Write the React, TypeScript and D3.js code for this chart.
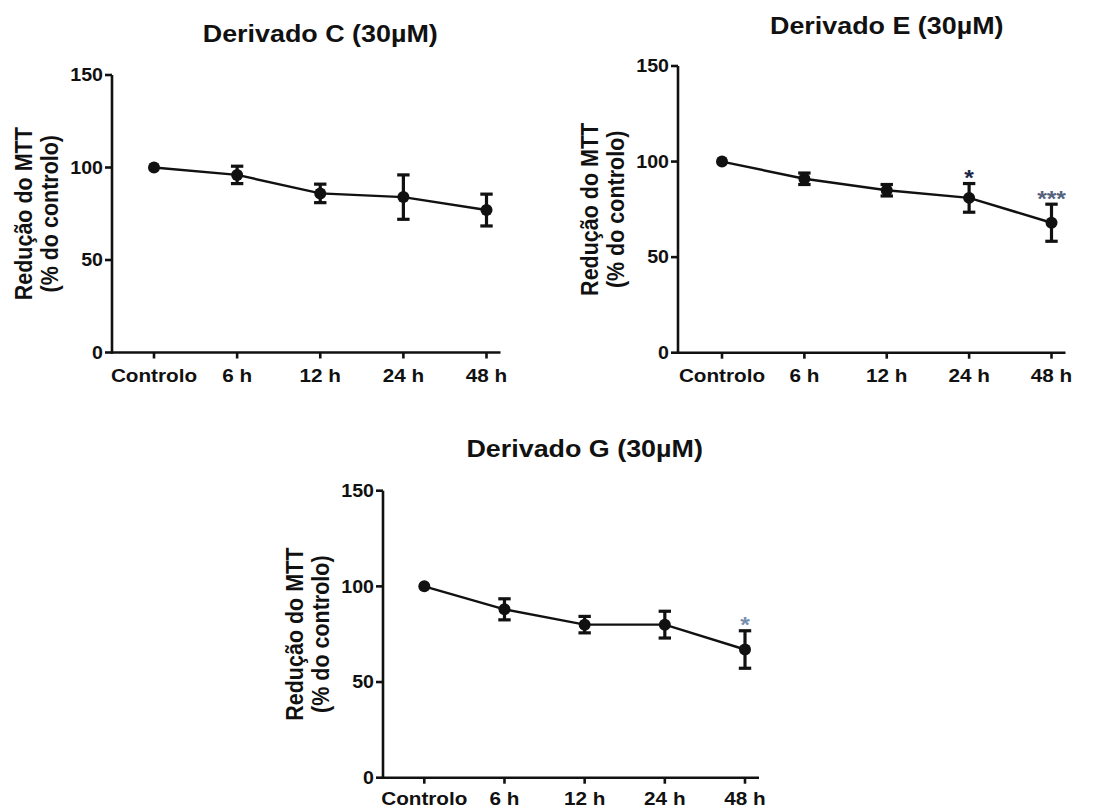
import * as d3 from "d3";

const categories = ["Controlo", "6 h", "12 h", "24 h", "48 h"];
const yTicks = [0, 50, 100, 150];

const meanC = [100, 96, 86, 84, 77];
const semC = [0, 4.7, 5, 12, 8.6];
const sigC = ["", "", "", "", ""];

const meanE = [100, 91, 85, 81, 68];
const semE = [0, 3, 3, 7.5, 9.7];
const sigE = ["", "", "", "*", "***"];

const meanG = [100, 88, 80, 80, 67];
const semG = [0, 5.5, 4.3, 7, 9.8];
const sigG = ["", "", "", "", "*"];

const FONT = "'Liberation Sans', Arial, Helvetica, sans-serif";
const SX = 1.12; // source image is slightly stretched horizontally
const INK = "#111";

// panel layout: axis origin x, first/last category x, top/bottom of y axis
const panels = [
  { title: "Derivado C (30\u00b5M)", mean: meanC, sem: semC, sig: sigC, axisX: 112, x0: 154, x1: 486.5, yTop: 75, yBot: 352.5, titleY: 41.5, labelDy: 29.5, sigColor: ["#1c2340", "#1c2340"] },
  { title: "Derivado E (30\u00b5M)", mean: meanE, sem: semE, sig: sigE, axisX: 678, x0: 722, x1: 1051.5, yTop: 66, yBot: 352.7, titleY: 33.5, labelDy: 29.5, sigColor: ["#1c2848", "#56647e"] },
  { title: "Derivado G (30\u00b5M)", mean: meanG, sem: semG, sig: sigG, axisX: 383, x0: 424.3, x1: 745, yTop: 490.7, yBot: 777.7, titleY: 456.5, labelDy: 27.5, sigColor: ["#7890b0", "#7890b0"] },
];

const SText = ({ x, y, size, anchor = "middle", weight = "bold", rotate = false, fill = INK, children }: any) => (
  <text
    transform={`translate(${x},${y}) scale(${SX},1)${rotate ? " rotate(-90)" : ""}`}
    fontFamily={FONT}
    fontSize={size}
    fontWeight={weight}
    textAnchor={anchor}
    fill={fill}
  >
    {children}
  </text>
);

const Panel = ({ p }: any) => {
  const x = d3.scalePoint<string>().domain(categories).range([p.x0, p.x1]);
  const y = d3.scaleLinear().domain([0, 150]).range([p.yBot, p.yTop]);
  const pts = categories.map((c, i) => ({ c, m: p.mean[i], s: p.sem[i], sig: p.sig[i] }));
  const line = d3
    .line<any>()
    .x((d) => x(d.c) as number)
    .y((d) => y(d.m));
  const right = p.x1 + 14;
  const midY = (p.yTop + p.yBot) / 2;
  const titleX = (p.x0 + p.x1) / 2;

  return (
    <g>
      <SText x={titleX} y={p.titleY} size={24}>
        {p.title}
      </SText>

      {/* y axis label */}
      <SText x={p.axisX - 80} y={midY} size={21.5} rotate>
        Redução do MTT
      </SText>
      <SText x={p.axisX - 54} y={midY} size={21.5} rotate>
        (% do controlo)
      </SText>

      {/* axes */}
      <g stroke={INK} strokeWidth={2.6} fill="none">
        <line x1={p.axisX} x2={p.axisX} y1={y(0) + 1.3} y2={y(150)} />
        <line x1={p.axisX} x2={right} y1={y(0)} y2={y(0)} />
        {yTicks.map((t) => (
          <line key={t} x1={p.axisX - 7} x2={p.axisX} y1={y(t)} y2={y(t)} />
        ))}
        {categories.map((c) => (
          <line key={c} x1={x(c)} x2={x(c)} y1={y(0)} y2={y(0) + 6} />
        ))}
      </g>
      {yTicks.map((t) => (
        <SText key={t} x={p.axisX - 9} y={y(t) + 6.2} size={17.5} anchor="end">
          {t}
        </SText>
      ))}
      {categories.map((c) => (
        <SText key={c} x={x(c)} y={y(0) + p.labelDy} size={18.5}>
          {c}
        </SText>
      ))}

      {/* data */}
      <path d={line(pts) as string} fill="none" stroke={INK} strokeWidth={2.4} />
      {pts
        .filter((d) => d.s > 0)
        .map((d) => {
          const cx = x(d.c) as number;
          return (
            <g key={d.c} stroke={INK} strokeWidth={3.2} fill="none">
              <line x1={cx} x2={cx} y1={y(d.m + d.s)} y2={y(d.m - d.s)} />
              <line x1={cx - 6.2} x2={cx + 6.2} y1={y(d.m + d.s)} y2={y(d.m + d.s)} />
              <line x1={cx - 6.2} x2={cx + 6.2} y1={y(d.m - d.s)} y2={y(d.m - d.s)} />
            </g>
          );
        })}
      {pts.map((d) => (
        <circle key={d.c} cx={x(d.c)} cy={y(d.m)} r={6} fill={INK} />
      ))}
      {pts
        .filter((d) => d.sig)
        .map((d) => (
          <SText
            key={d.c}
            x={x(d.c)}
            y={y(d.m + d.s) - 11 + 0.57 * 22}
            size={22}
            fill={d.sig.length > 1 ? p.sigColor[1] : p.sigColor[0]}
          >
            {d.sig}
          </SText>
        ))}
    </g>
  );
};

export default function App() {
  return (
    <svg
      width={1104}
      height={809}
      style={{ position: "absolute", left: 0, top: 0, background: "#fff" }}
    >
      <rect width={1104} height={809} fill="#fff" />
      {panels.map((p) => (
        <Panel key={p.title} p={p} />
      ))}
    </svg>
  );
}
